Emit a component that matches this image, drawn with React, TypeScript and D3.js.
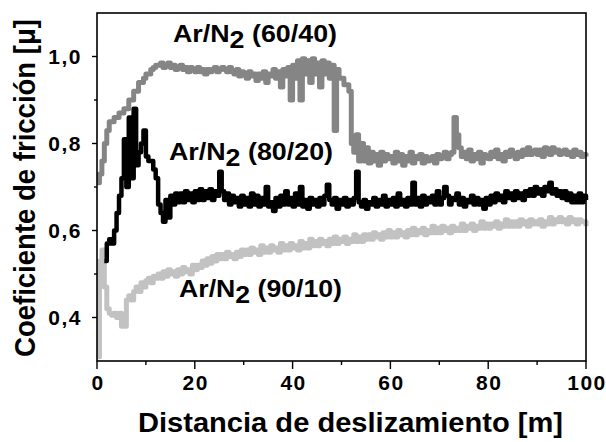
import React from 'react';
import * as d3 from 'd3';

const W = 606, H = 442;
const M = { left: 97, right: 586, top: 13, bottom: 361 };

const xTicks = [0, 20, 40, 60, 80, 100];
const xMinor = [10, 30, 50, 70, 90];
const yTicks = [0.4, 0.6, 0.8, 1.0];
const yMinor = [0.5, 0.7, 0.9];
const yTickLabels = ['0,4', '0,6', '0,8', '1,0'];

const seriesNames = ['60/40', '80/20', '90/10'];

// Ar/N2 (60/40), distance 0..100 m every 0.5 m
const start6040 = 0;
const mu6040 = [
  0.71, 0.73, 0.76, 0.80, 0.83, 0.85, 0.85, 0.86, 0.86, 0.87,
  0.87, 0.88, 0.88, 0.90, 0.90, 0.92, 0.92, 0.94, 0.94, 0.95,
  0.96, 0.96, 0.97, 0.975, 0.98, 0.98, 0.985, 0.975, 0.98, 0.985,
  0.975, 0.98, 0.97, 0.975, 0.98, 0.97, 0.975, 0.965, 0.975, 0.97,
  0.965, 0.975, 0.965, 0.97, 0.96, 0.97, 0.965, 0.97, 0.975, 0.965,
  0.97, 0.975, 0.97, 0.965, 0.975, 0.965, 0.96, 0.97, 0.955, 0.965,
  0.96, 0.95, 0.965, 0.955, 0.96, 0.945, 0.96, 0.95, 0.965, 0.94,
  0.96, 0.955, 0.97, 0.95, 0.965, 0.93, 0.97, 0.955, 0.975, 0.90,
  0.98, 0.95, 0.99, 0.90, 0.995, 0.96, 0.99, 0.94, 0.995, 0.96,
  0.985, 0.93, 0.99, 0.96, 0.985, 0.95, 0.98, 0.83, 0.97, 0.95,
  0.95, 0.935, 0.935, 0.92, 0.80, 0.78, 0.82, 0.76, 0.80, 0.76,
  0.79, 0.755, 0.78, 0.76, 0.775, 0.75, 0.78, 0.76, 0.775, 0.765,
  0.77, 0.755, 0.78, 0.76, 0.775, 0.75, 0.77, 0.76, 0.78, 0.755,
  0.77, 0.765, 0.775, 0.755, 0.77, 0.76, 0.765, 0.77, 0.755, 0.775,
  0.765, 0.77, 0.78, 0.765, 0.775, 0.78, 0.86, 0.82, 0.79, 0.77,
  0.78, 0.765, 0.785, 0.76, 0.775, 0.765, 0.78, 0.755, 0.775, 0.77,
  0.765, 0.78, 0.77, 0.785, 0.765, 0.775, 0.76, 0.78, 0.77, 0.785,
  0.775, 0.765, 0.78, 0.77, 0.785, 0.775, 0.79, 0.775, 0.78, 0.785,
  0.775, 0.785, 0.77, 0.79, 0.78, 0.775, 0.79, 0.78, 0.785, 0.775,
  0.78, 0.785, 0.775, 0.78, 0.77, 0.785, 0.775, 0.78, 0.77, 0.775,
  0.77,
];

// Ar/N2 (80/20), distance 1.5..100 m every 0.5 m
const start8020 = 1.5;
const mu8020 = [
  0.53, 0.57, 0.58, 0.57, 0.60, 0.64, 0.68,
  0.72, 0.81, 0.70, 0.86, 0.72, 0.88, 0.75, 0.78, 0.80, 0.83,
  0.77, 0.76, 0.76, 0.74, 0.72, 0.66, 0.64, 0.62, 0.67, 0.63,
  0.68, 0.66, 0.685, 0.665, 0.685, 0.665, 0.69, 0.67, 0.685, 0.665,
  0.69, 0.67, 0.695, 0.67, 0.69, 0.675, 0.695, 0.67, 0.69, 0.68,
  0.735, 0.69, 0.67, 0.685, 0.66, 0.68, 0.665, 0.675, 0.655, 0.68,
  0.66, 0.675, 0.655, 0.685, 0.66, 0.68, 0.655, 0.675, 0.66, 0.70,
  0.655, 0.665, 0.645, 0.675, 0.655, 0.68, 0.66, 0.69, 0.66, 0.675,
  0.655, 0.685, 0.66, 0.70, 0.655, 0.67, 0.65, 0.675, 0.66, 0.67,
  0.655, 0.675, 0.66, 0.68, 0.705, 0.67, 0.66, 0.675, 0.65, 0.67,
  0.66, 0.675, 0.655, 0.67, 0.66, 0.675, 0.735, 0.665, 0.655, 0.67,
  0.65, 0.665, 0.66, 0.675, 0.655, 0.67, 0.66, 0.68, 0.655, 0.67,
  0.66, 0.675, 0.655, 0.685, 0.66, 0.67, 0.655, 0.675, 0.66, 0.71,
  0.66, 0.675, 0.655, 0.68, 0.66, 0.675, 0.665, 0.68, 0.66, 0.69,
  0.66, 0.675, 0.70, 0.68, 0.66, 0.675, 0.67, 0.685, 0.66, 0.675,
  0.655, 0.67, 0.665, 0.68, 0.66, 0.675, 0.66, 0.67, 0.65, 0.675,
  0.66, 0.68, 0.665, 0.685, 0.67, 0.68, 0.665, 0.69, 0.675, 0.685,
  0.67, 0.69, 0.675, 0.685, 0.67, 0.69, 0.68, 0.695, 0.68, 0.70,
  0.685, 0.695, 0.68, 0.70, 0.69, 0.71, 0.685, 0.695, 0.68, 0.69,
  0.675, 0.69, 0.67, 0.685, 0.665, 0.68, 0.665, 0.685, 0.665, 0.68,
  0.67,
];

// Ar/N2 (90/10), distance 0..100 m every 0.5 m
const start9010 = 0;
const mu9010 = [
  0.31, 0.53, 0.555, 0.47, 0.42, 0.41, 0.405, 0.41, 0.40, 0.41,
  0.38, 0.38, 0.44, 0.45, 0.44, 0.46, 0.47, 0.46, 0.48, 0.47,
  0.485, 0.49, 0.48, 0.495, 0.49, 0.50, 0.49, 0.505, 0.495, 0.51,
  0.50, 0.505, 0.495, 0.51, 0.50, 0.515, 0.505, 0.51, 0.50, 0.52,
  0.51, 0.52, 0.515, 0.53, 0.52, 0.535, 0.525, 0.54, 0.53, 0.545,
  0.535, 0.545, 0.535, 0.55, 0.54, 0.545, 0.535, 0.55, 0.54, 0.555,
  0.545, 0.555, 0.545, 0.56, 0.55, 0.555, 0.545, 0.565, 0.55, 0.56,
  0.55, 0.565, 0.555, 0.56, 0.55, 0.57, 0.555, 0.565, 0.555, 0.57,
  0.56, 0.565, 0.555, 0.575, 0.56, 0.57, 0.56, 0.58, 0.565, 0.575,
  0.565, 0.58, 0.57, 0.575, 0.565, 0.58, 0.57, 0.585, 0.57, 0.58,
  0.575, 0.585, 0.57, 0.58, 0.575, 0.59, 0.575, 0.585, 0.575, 0.59,
  0.58, 0.59, 0.58, 0.595, 0.585, 0.59, 0.58, 0.595, 0.585, 0.60,
  0.585, 0.595, 0.585, 0.60, 0.59, 0.595, 0.585, 0.60, 0.59, 0.605,
  0.59, 0.60, 0.595, 0.605, 0.59, 0.60, 0.595, 0.61, 0.595, 0.605,
  0.595, 0.61, 0.60, 0.605, 0.595, 0.61, 0.60, 0.605, 0.60, 0.615,
  0.60, 0.61, 0.605, 0.615, 0.60, 0.61, 0.605, 0.62, 0.605, 0.615,
  0.605, 0.615, 0.61, 0.62, 0.605, 0.615, 0.61, 0.625, 0.61, 0.62,
  0.61, 0.62, 0.61, 0.625, 0.615, 0.62, 0.61, 0.625, 0.615, 0.62,
  0.615, 0.625, 0.61, 0.62, 0.615, 0.63, 0.615, 0.625, 0.62, 0.63,
  0.62, 0.625, 0.615, 0.63, 0.62, 0.625, 0.615, 0.625, 0.62, 0.62,
  0.61,
];

const STEP = 0.5;
const toPts = (start: number, vals: number[]) =>
  vals.map((v, i) => [start + i * STEP, v] as [number, number]);

const FONT = '"Liberation Sans", Arial, Helvetica, sans-serif';

export default function App() {
  const x = d3.scaleLinear().domain([0, 100]).range([M.left, M.right]);
  const y = d3.scaleLinear().domain([0.3, 1.1]).range([M.bottom, M.top]);
  const line = d3
    .line<[number, number]>()
    .x((d) => x(d[0]))
    .y((d) => y(d[1]))
    .curve(d3.curveStepAfter);

  const series = [
    { pts: toPts(start9010, mu9010), color: '#c2c2c2', w: 5 },
    { pts: toPts(start6040, mu6040), color: '#858585', w: 5 },
    { pts: toPts(start8020, mu8020), color: '#000000', w: 4.5 },
  ];

  const labels = [
    { name: seriesNames[0], x: 173, y: 42, len: 164 },
    { name: seriesNames[1], x: 169, y: 160, len: 164 },
    { name: seriesNames[2], x: 179, y: 297, len: 163 },
  ];

  return (
    <svg
      width={W}
      height={H}
      viewBox={`0 0 ${W} ${H}`}
      style={{ position: 'absolute', left: 0, top: 0, background: '#fff' }}
    >
      <rect x={0} y={0} width={W} height={H} fill="#fff" />
      {series.map((s, i) => (
        <path
          key={i}
          d={line(s.pts) || ''}
          fill="none"
          stroke={s.color}
          strokeWidth={s.w}
          strokeLinejoin="round"
          strokeLinecap="butt"
        />
      ))}
      {/* frame */}
      <rect
        x={M.left}
        y={M.top}
        width={M.right - M.left}
        height={M.bottom - M.top}
        fill="none"
        stroke="#000"
        strokeWidth={1.6}
      />
      {/* y ticks */}
      {yTicks.map((t) => (
        <line key={'y' + t} x1={M.left - 5} x2={M.left} y1={y(t)} y2={y(t)} stroke="#000" strokeWidth={1.4} />
      ))}
      {yMinor.map((t) => (
        <line key={'ym' + t} x1={M.left - 3} x2={M.left} y1={y(t)} y2={y(t)} stroke="#000" strokeWidth={1.4} />
      ))}
      {yTicks.map((t, i) => (
        <text
          key={'yl' + t}
          x={82}
          y={y(t)}
          dy="0.36em"
          textAnchor="end"
          fontFamily={FONT}
          fontWeight="bold"
          fontSize={21}
          letterSpacing={1.5}
        >
          {yTickLabels[i]}
        </text>
      ))}
      {/* x ticks */}
      {xTicks.map((t) => (
        <line key={'x' + t} x1={x(t)} x2={x(t)} y1={M.bottom} y2={M.bottom + 8} stroke="#000" strokeWidth={1.4} />
      ))}
      {xMinor.map((t) => (
        <line key={'xm' + t} x1={x(t)} x2={x(t)} y1={M.bottom} y2={M.bottom + 4} stroke="#000" strokeWidth={1.4} />
      ))}
      {xTicks.map((t) => (
        <text
          key={'xl' + t}
          x={x(t) + 1}
          y={390}
          textAnchor="middle"
          fontFamily={FONT}
          fontWeight="bold"
          fontSize={21}
          letterSpacing={1.5}
        >
          {String(t)}
        </text>
      ))}
      {/* axis titles */}
      <text
        x={138}
        y={432}
        fontFamily={FONT}
        fontWeight="bold"
        fontSize={27}
        textLength={425}
        lengthAdjust="spacingAndGlyphs"
      >
        Distancia de deslizamiento [m]
      </text>
      <text
        transform={`translate(35,357) rotate(-90)`}
        x={0}
        y={0}
        fontFamily={FONT}
        fontWeight="bold"
        fontSize={29}
        textLength={338}
        lengthAdjust="spacingAndGlyphs"
      >
        Coeficiente de fricción [μ]
      </text>
      {/* series labels */}
      {labels.map((l) => (
        <text
          key={l.name}
          x={l.x}
          y={l.y}
          fontFamily={FONT}
          fontWeight="bold"
          fontSize={23}
          textLength={l.len}
          lengthAdjust="spacingAndGlyphs"
        >
          Ar/N
          <tspan dy={6}>2</tspan>
          <tspan dy={-6}>{' (' + l.name + ')'}</tspan>
        </text>
      ))}
    </svg>
  );
}
